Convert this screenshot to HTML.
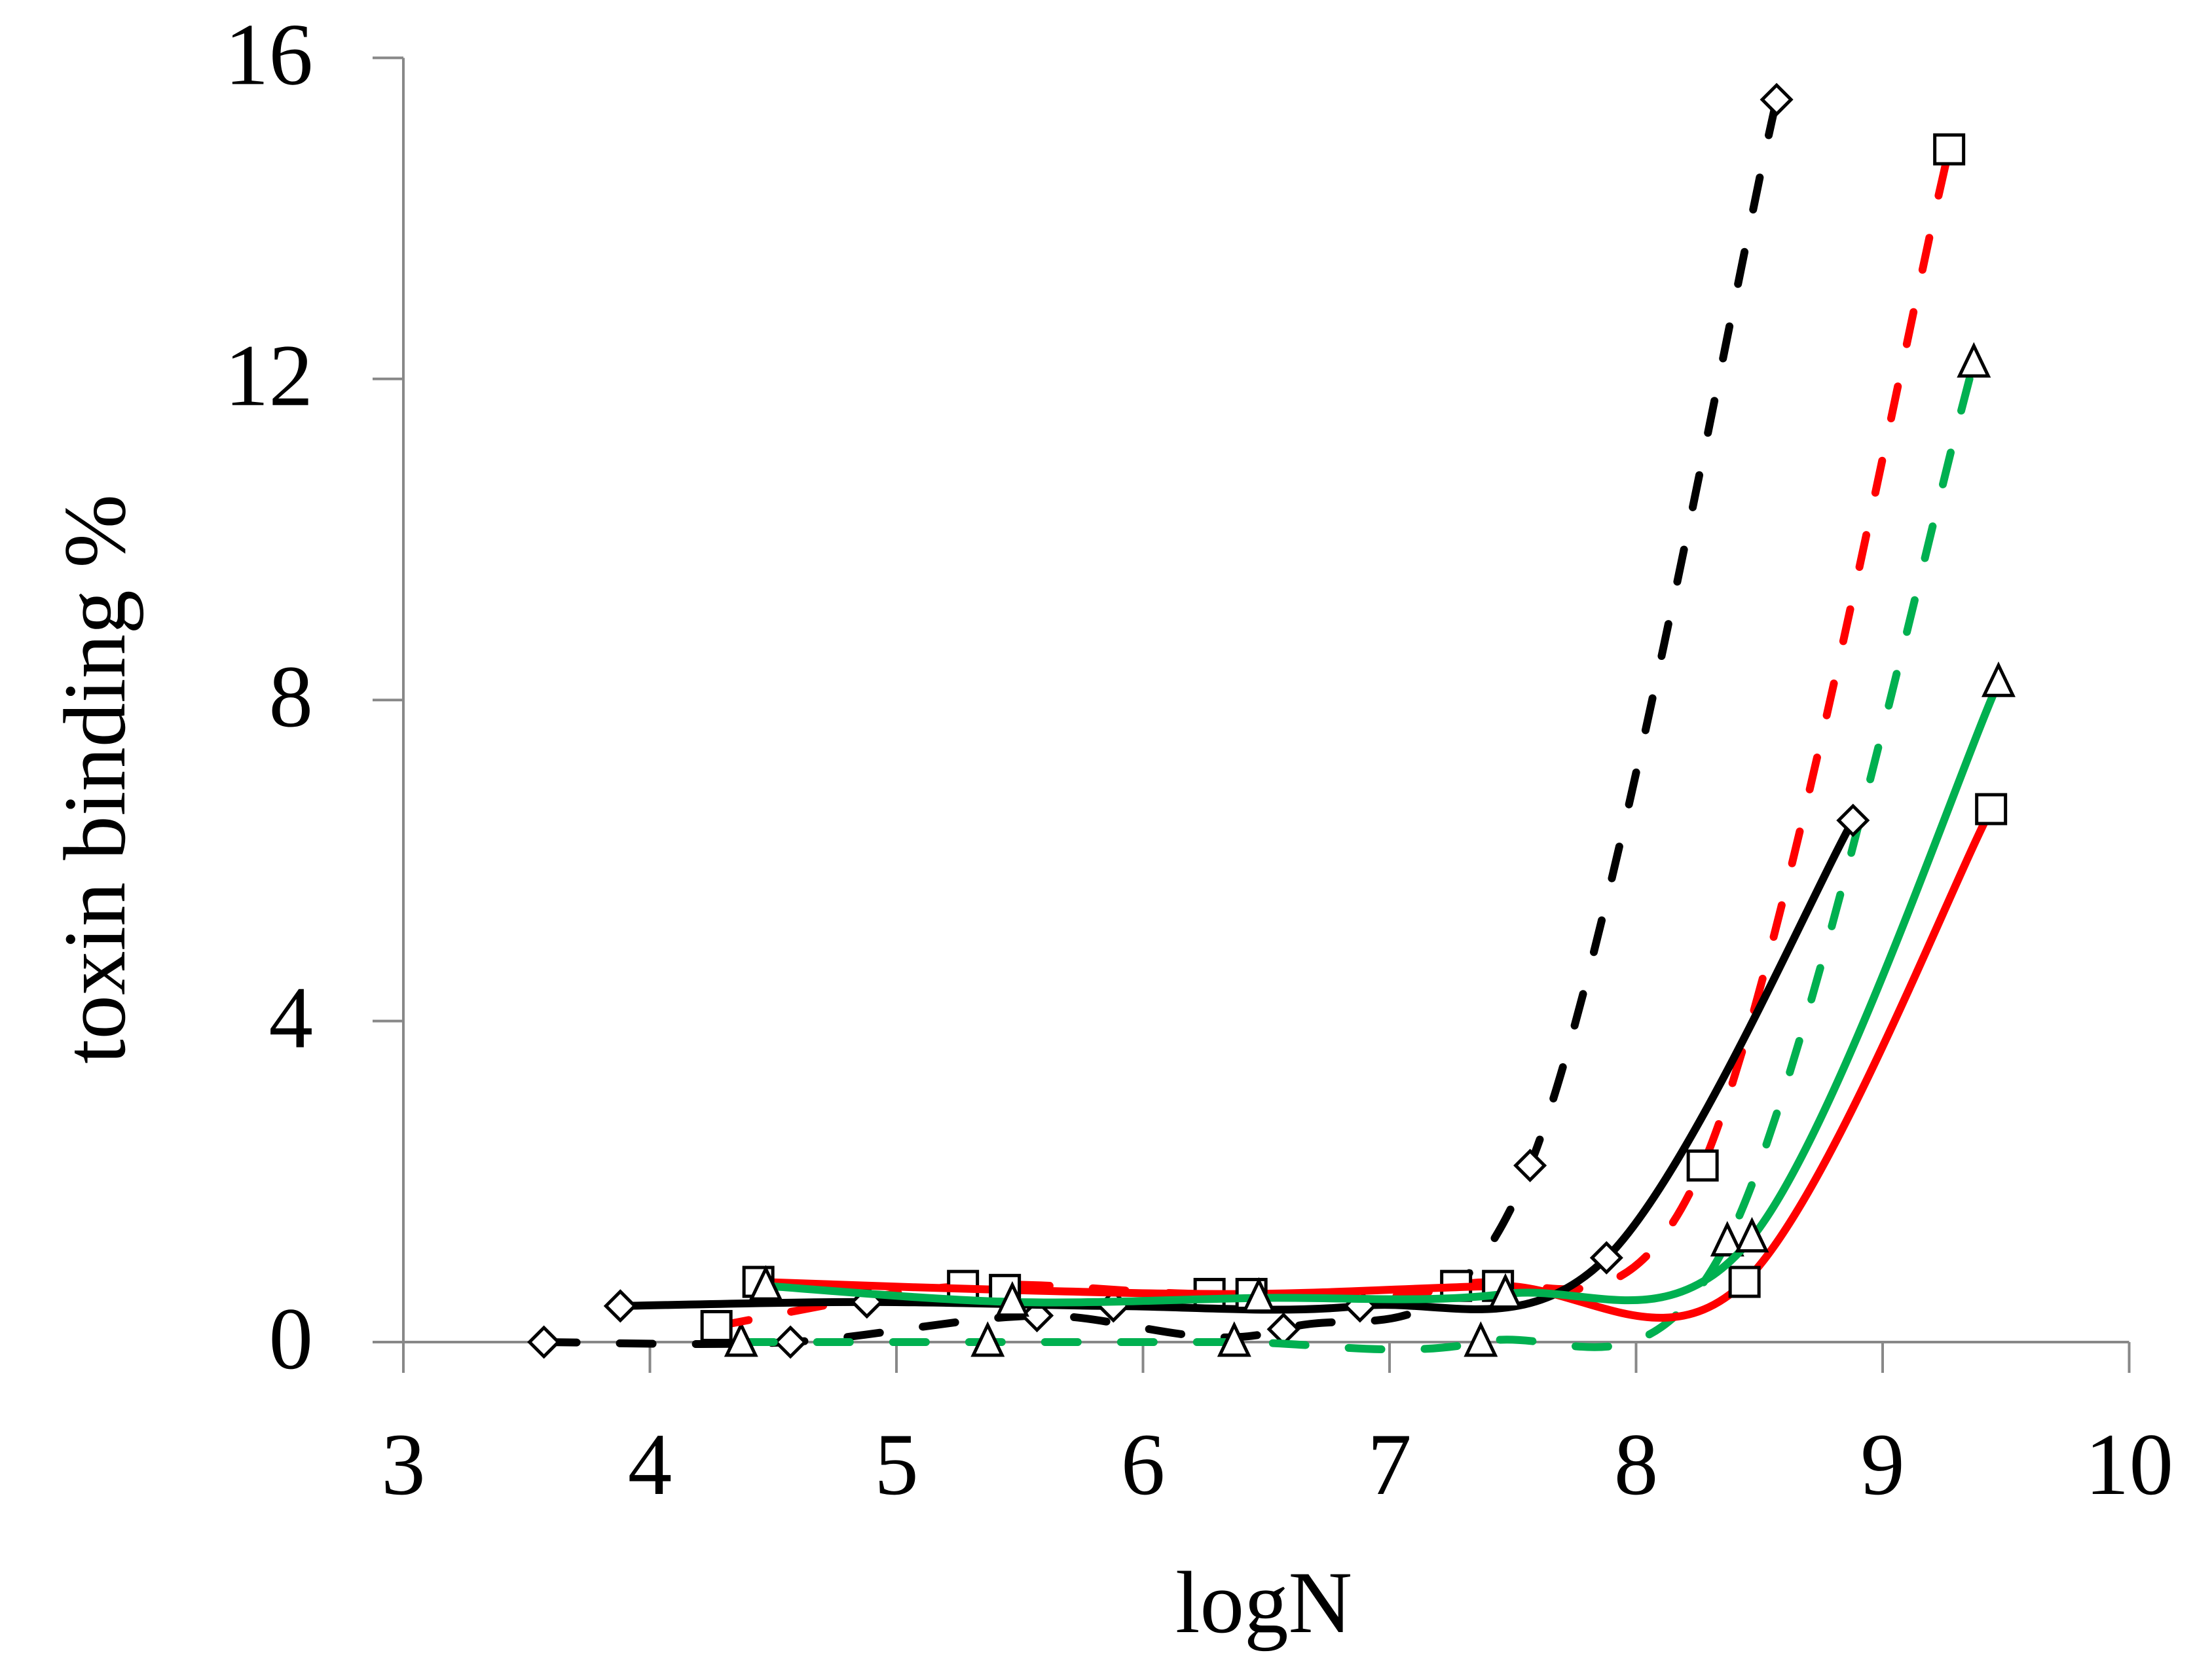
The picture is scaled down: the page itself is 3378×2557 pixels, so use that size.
<!DOCTYPE html>
<html><head><meta charset="utf-8"><style>
html,body{margin:0;padding:0;background:#fff;}
svg{display:block;}
text{font-family:"Liberation Serif",serif;fill:#000;}
</style></head><body>
<svg id="chart" width="3378" height="2557" viewBox="0 0 3378 2557" xmlns="http://www.w3.org/2000/svg">
<rect width="3378" height="2557" fill="#fff"/>
<g id="axes"></g>
<g id="series"></g>
<text x="1930" y="2493" font-size="135" text-anchor="middle">logN</text>
<text transform="translate(190,1190) rotate(-90)" font-size="135" text-anchor="middle">toxin binding %</text>
</svg>
<script>
const xTicks = [3,4,5,6,7,8,9,10];
const yTicks = [0,4,8,12,16];
const blackDashedX = [3.57,4.57,5.57,6.57,7.57,8.57];
const blackDashedY = [0,0,0.33,0.16,2.2,15.48];
const blackSolidX = [3.88,4.88,5.88,6.88,7.88,8.88];
const blackSolidY = [0.45,0.5,0.45,0.45,1.05,6.5];
const redDashedX = [4.27,5.27,6.27,7.27,8.27,9.27];
const redDashedY = [0.2,0.7,0.6,0.7,2.2,14.86];
const redSolidX = [4.44,5.44,6.44,7.44,8.44,9.44];
const redSolidY = [0.75,0.65,0.6,0.7,0.75,6.64];
const greenDashedX = [4.37,5.37,6.37,7.37,8.37,9.37];
const greenDashedY = [0,0,0,0,1.25,12.2];
const greenSolidX = [4.47,5.47,6.47,7.47,8.47,9.47];
const greenSolidY = [0.7,0.5,0.55,0.6,1.3,8.22];

const NS = "http://www.w3.org/2000/svg";
const X0 = 616, XS = 376.5, Y0 = 2050, YS = 122.6;
function sx(v){ return X0 + (v-3)*XS; }
function sy(v){ return Y0 - v*YS; }
function mk(tag, attrs, parent){
  const e = document.createElementNS(NS, tag);
  for (const k in attrs) e.setAttribute(k, attrs[k]);
  parent.appendChild(e);
  return e;
}
const axes = document.getElementById('axes');
const series = document.getElementById('series');

let a = mk('line',{x1:X0,y1:sy(16),x2:X0,y2:Y0,stroke:'#888','stroke-width':4},axes);


a = mk('line',{x1:569,y1:Y0,x2:sx(10),y2:Y0,stroke:'#888','stroke-width':4},axes);



yTicks.forEach(t=>{
  const l = mk('line',{x1:569,y1:sy(t),x2:X0,y2:sy(t),stroke:'#888','stroke-width':4},axes);
  
  
  const tx = mk('text',{x:478,y:sy(t)+40,'font-size':135,'text-anchor':'end'},axes);
  tx.textContent = String(t);
  
  
});
xTicks.forEach(t=>{
  const l = mk('line',{x1:sx(t),y1:Y0,x2:sx(t),y2:2097,stroke:'#888','stroke-width':4},axes);
  
  
  const tx = mk('text',{x:sx(t),y:2282,'font-size':135,'text-anchor':'middle'},axes);
  tx.textContent = String(t);
  
  
});

function smoothPath(xs, ys){
  const p = xs.map((x,i)=>[sx(x), sy(ys[i])]);
  let d = 'M'+p[0][0]+','+p[0][1];
  for (let i=0;i<p.length-1;i++){
    const p0 = p[i-1]||p[i], p1=p[i], p2=p[i+1], p3=p[i+2]||p[i+1];
    const c1 = [p1[0]+(p2[0]-p0[0])/6, p1[1]+(p2[1]-p0[1])/6];
    const c2 = [p2[0]-(p3[0]-p1[0])/6, p2[1]-(p3[1]-p1[1])/6];
    d += ' C'+c1[0]+','+c1[1]+' '+c2[0]+','+c2[1]+' '+p2[0]+','+p2[1];
  }
  return d;
}
function marker(type, x, y, g){
  const cx = sx(x), cy = sy(y);
  let e;
  if (type==='square'){
    e = mk('rect',{x:cx-22,y:cy-22,width:44,height:44,fill:'#fff',stroke:'#000','stroke-width':5},g);
  } else if (type==='diamond'){
    e = mk('polygon',{points:(cx)+','+(cy-22)+' '+(cx+22)+','+cy+' '+cx+','+(cy+22)+' '+(cx-22)+','+cy,fill:'#fff',stroke:'#000','stroke-width':5},g);
  } else {
    e = mk('polygon',{points:cx+','+(cy-26)+' '+(cx+22)+','+(cy+20)+' '+(cx-22)+','+(cy+20),fill:'#fff',stroke:'#000','stroke-width':5},g);
  }
  
  
}
function drawSeries(name, xs, ys, color, dashed, mtype){
  const g = mk('g',{},series);
  
  
  const attrs = {d:smoothPath(xs,ys),fill:'none',stroke:color,'stroke-width':12,'stroke-linecap':'round','stroke-linejoin':'round'};
  if (dashed) attrs['stroke-dasharray']='50 66';
  const pth = mk('path',attrs,g);
  
  
  xs.forEach((x,i)=>marker(mtype,x,ys[i],g));
}
drawSeries('black-dashed-series', blackDashedX, blackDashedY, '#000', true, 'diamond');
drawSeries('green-dashed-series', greenDashedX, greenDashedY, '#00B050', true, 'triangle');
drawSeries('red-dashed-series', redDashedX, redDashedY, '#FF0000', true, 'square');
drawSeries('black-solid-series', blackSolidX, blackSolidY, '#000', false, 'diamond');
drawSeries('red-solid-series', redSolidX, redSolidY, '#FF0000', false, 'square');
drawSeries('green-solid-series', greenSolidX, greenSolidY, '#00B050', false, 'triangle');
</script>
</body></html>
